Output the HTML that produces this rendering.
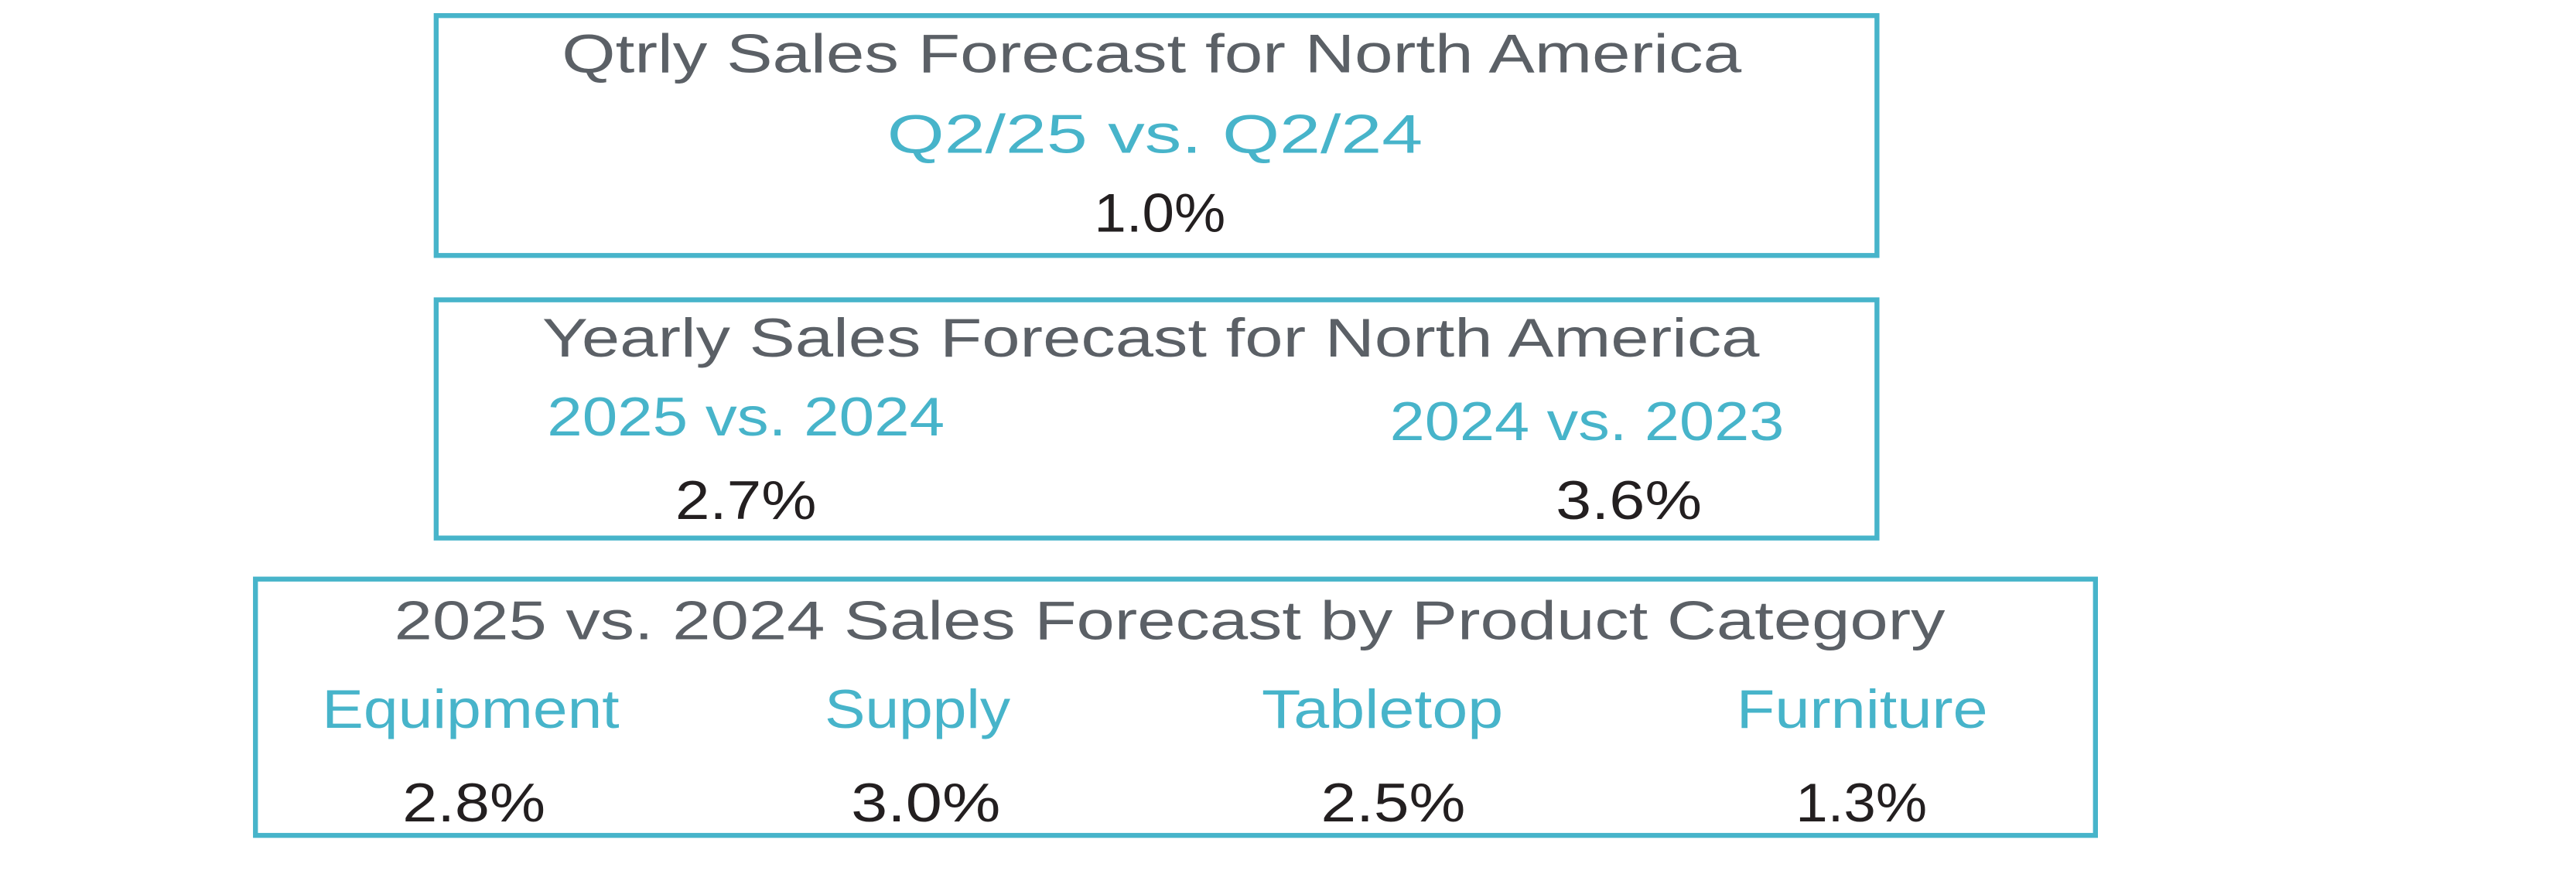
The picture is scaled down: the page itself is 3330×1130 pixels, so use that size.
<!DOCTYPE html>
<html><head><meta charset="utf-8"><style>
html,body{margin:0;padding:0;background:#fff;}
svg{display:block;}
text{font-family:"Liberation Sans",sans-serif;}
.g{fill:#5b6066;font-size:33px;}
.t{fill:#47b4ca;font-size:33px;}
.k{fill:#231f20;font-size:33px;}
rect{fill:none;stroke:#47b4ca;stroke-width:3;}
</style></head><body>
<svg width="3330" height="1130" viewBox="0 0 1568 532" preserveAspectRatio="none">
<rect x="265.5" y="9.5" width="877" height="146"/>
<rect x="265.5" y="182.5" width="877" height="145"/>
<rect x="155.5" y="352.5" width="1120" height="156"/>
<text class="g" x="342" y="44" textLength="718" lengthAdjust="spacingAndGlyphs">Qtrly Sales Forecast for North America</text>
<text class="t" x="540" y="93" textLength="326" lengthAdjust="spacingAndGlyphs">Q2/25 vs. Q2/24</text>
<text class="k" x="666" y="141" textLength="80" lengthAdjust="spacingAndGlyphs">1.0%</text>
<text class="g" x="330" y="217" textLength="741" lengthAdjust="spacingAndGlyphs">Yearly Sales Forecast for North America</text>
<text class="t" x="333" y="265" textLength="242" lengthAdjust="spacingAndGlyphs">2025 vs. 2024</text>
<text class="t" x="846" y="268" textLength="240" lengthAdjust="spacingAndGlyphs">2024 vs. 2023</text>
<text class="k" x="411" y="316" textLength="86" lengthAdjust="spacingAndGlyphs">2.7%</text>
<text class="k" x="947" y="316" textLength="89" lengthAdjust="spacingAndGlyphs">3.6%</text>
<text class="g" x="240" y="389" textLength="944" lengthAdjust="spacingAndGlyphs">2025 vs. 2024 Sales Forecast by Product Category</text>
<text class="t" x="196" y="443" textLength="181" lengthAdjust="spacingAndGlyphs">Equipment</text>
<text class="t" x="502" y="443" textLength="113" lengthAdjust="spacingAndGlyphs">Supply</text>
<text class="t" x="768" y="443" textLength="147" lengthAdjust="spacingAndGlyphs">Tabletop</text>
<text class="t" x="1057" y="443" textLength="153" lengthAdjust="spacingAndGlyphs">Furniture</text>
<text class="k" x="245" y="500" textLength="87" lengthAdjust="spacingAndGlyphs">2.8%</text>
<text class="k" x="518" y="500" textLength="91" lengthAdjust="spacingAndGlyphs">3.0%</text>
<text class="k" x="804" y="500" textLength="88" lengthAdjust="spacingAndGlyphs">2.5%</text>
<text class="k" x="1093" y="500" textLength="80" lengthAdjust="spacingAndGlyphs">1.3%</text>
</svg>
</body></html>
